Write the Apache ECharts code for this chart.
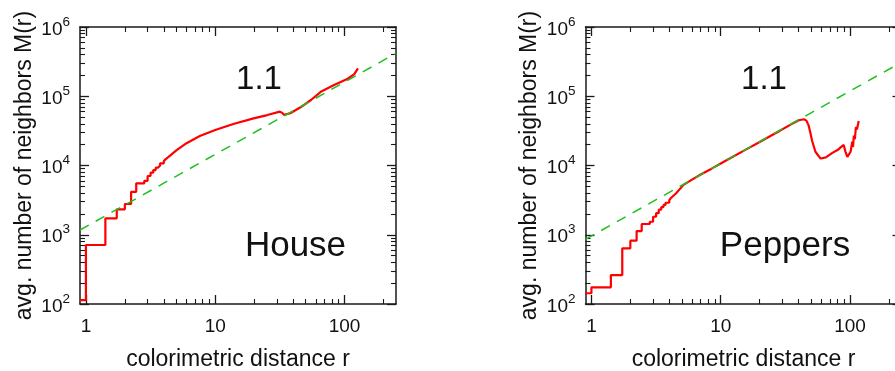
<!DOCTYPE html>
<html>
<head>
<meta charset="utf-8">
<script src="https://cdn.jsdelivr.net/npm/echarts@6/dist/echarts.min.js"></script>
<style>
  html, body { margin: 0; padding: 0; background: #fff; }
  #chart { width: 895px; height: 371px; }
</style>
</head>
<body>
<div id="chart"></div>
<script>
// ---- axis ticks ----
const xMajorTicks = [1, 10, 100];
const xMinorTicks = [2, 3, 4, 5, 6, 7, 8, 9, 20, 30, 40, 50, 60, 70, 80, 90, 200];
const yMajorTicks = [100, 1000, 10000, 100000, 1000000];
const yMinorTicks = [
  200, 300, 400, 500, 600, 700, 800, 900,
  2000, 3000, 4000, 5000, 6000, 7000, 8000, 9000,
  20000, 30000, 40000, 50000, 60000, 70000, 80000, 90000,
  200000, 300000, 400000, 500000, 600000, 700000, 800000, 900000
];
const xRange = [0.9, 250];
const yRange = [100, 1000000];

// ---- House: M(r) staircase at small r, then smooth part ----
const houseSteps = [
  [0.9, 114], [1, 711], [1.414, 1728], [1.732, 2330], [2, 2780], [2.236, 4170],
  [2.449, 5530], [2.828, 6000], [3, 7050], [3.162, 7870], [3.317, 8600],
  [3.464, 9300], [3.606, 9900], [3.742, 10700], [4, 11500], [4.123, 12300], [4.243, 13000]
];
const houseCurve = [
  [4.5, 14000], [5, 16500], [6, 21000], [7.6, 26700], [10, 32600], [13.8, 39800],
  [19.8, 48000], [25.3, 53500], [31.6, 59900], [33, 57500], [34, 53800], [38, 56800],
  [45.7, 69300], [55, 88300], [65.5, 116000], [83, 145000], [106, 179000],
  [119, 209000], [127, 253000]
];
const houseFit = [[0.9, 1170], [250, 417000]];

// ---- Peppers ----
const peppersSteps = [
  [0.9, 143], [1, 174], [1.414, 262], [1.732, 637], [2, 820], [2.236, 1130],
  [2.449, 1430], [2.828, 1540], [3, 1820], [3.162, 2050], [3.317, 2300],
  [3.464, 2500], [3.606, 2700], [3.742, 2900], [4, 3150], [4.123, 3400], [4.243, 3600]
];
const peppersCurve = [
  [4.5, 3950], [5.15, 5250], [6, 6250], [7, 7400], [8.5, 9000], [10, 10700],
  [12.5, 13500], [15.5, 16800], [20, 21800], [28.2, 31300], [35, 39300],
  [40.2, 45000], [44, 46500], [46, 44500], [47.8, 38000], [49.5, 29000],
  [50.8, 23000], [54, 15800], [59.2, 12600], [65, 13100], [73, 15200], [80, 16700],
  [85.5, 18600], [89.3, 19800], [92, 16000], [95.3, 13300], [98, 14000],
  [101, 15800], [104, 22000], [105.5, 18500], [107, 27000], [109, 24000],
  [111, 36000], [113, 33000], [116.7, 44000]
];
const peppersFit = [[0.9, 860], [250, 310000]];

const panels = [
  { name: 'House', steps: houseSteps, curve: houseCurve, fit: houseFit, slope: '1.1', left: 80 },
  { name: 'Peppers', steps: peppersSteps, curve: peppersCurve, fit: peppersFit, slope: '1.1', left: 585.5 }
];

const FONT = "'Liberation Sans', Arial, Helvetica, sans-serif";
const AXIS_COLOR = '#1a1a1a';

// staircase: horizontal run at the previous level, then a vertical jump
function stairs(steps, curve) {
  const out = [steps[0]];
  for (let i = 1; i < steps.length; i++) {
    out.push([steps[i][0], steps[i - 1][1]]);
    out.push(steps[i]);
  }
  return out.concat(curve);
}

function xAxes(g) {
  const base = { gridIndex: g, type: 'log', logBase: 10, min: xRange[0], max: xRange[1],
                 splitLine: { show: false }, axisLine: { show: false, onZero: false } };
  return [
    Object.assign({}, base, {
      position: 'bottom',
      axisLine: { show: true, onZero: false, lineStyle: { color: AXIS_COLOR, width: 1.5 } },
      axisTick: { show: true, inside: true, length: 9, customValues: xMajorTicks,
                  lineStyle: { color: AXIS_COLOR, width: 1.3 } },
      axisLabel: { show: true, customValues: xMajorTicks, margin: 13,
                   fontFamily: FONT, fontSize: 19, color: '#111' },
      name: 'colorimetric distance r', nameLocation: 'middle', nameGap: 44,
      nameTextStyle: { fontFamily: FONT, fontSize: 23, color: '#111' }
    }),
    Object.assign({}, base, {
      position: 'bottom',
      axisTick: { show: true, inside: true, length: 5, customValues: xMinorTicks,
                  lineStyle: { color: AXIS_COLOR, width: 1.1 } },
      axisLabel: { show: false }
    }),
    Object.assign({}, base, {
      position: 'top',
      axisLine: { show: true, onZero: false, lineStyle: { color: AXIS_COLOR, width: 1.5 } },
      axisTick: { show: true, inside: true, length: 9, customValues: xMajorTicks,
                  lineStyle: { color: AXIS_COLOR, width: 1.3 } },
      axisLabel: { show: false }
    }),
    Object.assign({}, base, {
      position: 'top',
      axisTick: { show: true, inside: true, length: 5, customValues: xMinorTicks,
                  lineStyle: { color: AXIS_COLOR, width: 1.1 } },
      axisLabel: { show: false }
    })
  ];
}

function yAxes(g) {
  const base = { gridIndex: g, type: 'log', logBase: 10, min: yRange[0], max: yRange[1],
                 splitLine: { show: false }, axisLine: { show: false, onZero: false } };
  return [
    Object.assign({}, base, {
      position: 'left',
      axisLine: { show: true, onZero: false, lineStyle: { color: AXIS_COLOR, width: 1.5 } },
      axisTick: { show: true, inside: true, length: 9, customValues: yMajorTicks,
                  lineStyle: { color: AXIS_COLOR, width: 1.3 } },
      axisLabel: {
        show: true, customValues: yMajorTicks, margin: 10,
        formatter: v => '{b|10}{s|' + Math.round(Math.log10(v)) + '}',
        rich: {
          b: { fontFamily: FONT, fontSize: 19, color: '#111', lineHeight: 24, verticalAlign: 'bottom' },
          s: { fontFamily: FONT, fontSize: 13.5, color: '#111', lineHeight: 14, verticalAlign: 'top' }
        }
      },
      name: 'avg. number of neighbors M(r)', nameLocation: 'middle', nameGap: 44,
      nameTextStyle: { fontFamily: FONT, fontSize: 23, color: '#111' }
    }),
    Object.assign({}, base, {
      position: 'left',
      axisTick: { show: true, inside: true, length: 5, customValues: yMinorTicks,
                  lineStyle: { color: AXIS_COLOR, width: 1.1 } },
      axisLabel: { show: false }
    }),
    Object.assign({}, base, {
      position: 'right',
      axisLine: { show: true, onZero: false, lineStyle: { color: AXIS_COLOR, width: 1.5 } },
      axisTick: { show: true, inside: true, length: 9, customValues: yMajorTicks,
                  lineStyle: { color: AXIS_COLOR, width: 1.3 } },
      axisLabel: { show: false }
    }),
    Object.assign({}, base, {
      position: 'right',
      axisTick: { show: true, inside: true, length: 5, customValues: yMinorTicks,
                  lineStyle: { color: AXIS_COLOR, width: 1.1 } },
      axisLabel: { show: false }
    })
  ];
}

const grids = [], xAxis = [], yAxis = [], series = [], graphic = [];
panels.forEach((p, g) => {
  grids.push({ left: p.left, top: 27, width: 316, height: 277,
               containLabel: false, outerBoundsMode: 'none' });
  xAxis.push(...xAxes(g));
  yAxis.push(...yAxes(g));
  series.push({
    type: 'line', xAxisIndex: 4 * g, yAxisIndex: 4 * g,
    data: stairs(p.steps, p.curve), showSymbol: false, symbol: 'none',
    lineStyle: { color: '#ff0000', width: 2.2 }, z: 3, animation: false
  });
  series.push({
    type: 'line', xAxisIndex: 4 * g, yAxisIndex: 4 * g,
    data: p.fit, showSymbol: false, symbol: 'none',
    lineStyle: { color: '#1fc01f', width: 1.5, type: [10, 8] }, z: 4, animation: false
  });
  graphic.push({
    type: 'text', x: p.left + (g === 0 ? 179 : 178.5), y: 80,
    style: { text: p.slope, font: '33px ' + FONT, fill: '#111',
             textAlign: 'center', textVerticalAlign: 'middle' }
  });
  graphic.push({
    type: 'text', x: p.left + (g === 0 ? 215.5 : 199.5), y: 246,
    style: { text: p.name, font: '35px ' + FONT, fill: '#111',
             textAlign: 'center', textVerticalAlign: 'middle' }
  });
});

const chart = echarts.init(document.getElementById('chart'), null, { renderer: 'canvas' });
chart.setOption({
  animation: false,
  backgroundColor: '#ffffff',
  grid: grids,
  xAxis: xAxis,
  yAxis: yAxis,
  series: series,
  graphic: graphic
});
</script>
</body>
</html>
